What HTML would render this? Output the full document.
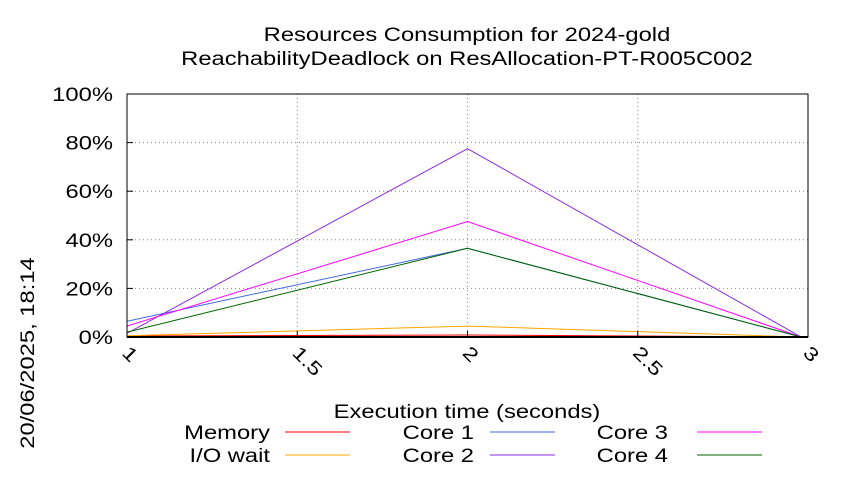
<!DOCTYPE html>
<html><head><meta charset="utf-8"><style>
html,body{margin:0;padding:0;background:#fff;}
svg text{font-family:"Liberation Sans",sans-serif;fill:#000;}
</style></head><body>
<svg width="850" height="475" xmlns="http://www.w3.org/2000/svg">
<g id="grid"></g>
<g id="series"></g>
<g id="axes"></g>
<text x="467" y="41" font-size="19" text-anchor="middle">Resources Consumption for 2024-gold</text>
<text x="467" y="65" font-size="19" text-anchor="middle">ReachabilityDeadlock on ResAllocation-PT-R005C002</text>
<text x="467" y="418" font-size="19" text-anchor="middle">Execution time (seconds)</text>
<text transform="translate(34,353) rotate(-90)" font-size="19" text-anchor="middle">20/06/2025, 18:14</text>
<g id="legend"></g>
</svg>
<script>
const xValues=[1,2,2.98];
const memory=[0.4,0.8,0];
const ioWait=[0.5,4.5,0];
const core1=[6.5,36.5,0];
const core2=[1.5,77.5,0];
const core3=[4.5,47.5,0];
const core4=[2,36.5,0];
const yTicks=[0,20,40,60,80,100];
const yTickLabels=["0%","20%","40%","60%","80%","100%"];
const xTicks=[1,1.5,2,2.5,3];
const xTickLabels=["1","1.5","2","2.5","3"];
const seriesNames=["Memory","I/O wait","Core 1","Core 2","Core 3","Core 4"];
const seriesColors=["#ff0000","#ffa500","#4169e1","#8a2be2","#ff00ff","#006400"];
const seriesData=[memory,ioWait,core1,core2,core3,core4];

const NS="http://www.w3.org/2000/svg";
const L=127,R=808,T=94,B=337;
const sx=v=>L+(v-1)/(3-1)*(R-L);
const sy=v=>B-v/100*(B-T);
function mk(tag,attrs,parent){const e=document.createElementNS(NS,tag);for(const k in attrs)e.setAttribute(k,attrs[k]);parent.appendChild(e);return e;}
const grid=document.getElementById('grid'),axes=document.getElementById('axes'),series=document.getElementById('series'),legend=document.getElementById('legend');
yTicks.forEach((t,i)=>{
  const y=sy(t);
  if(t>0&&t<100){const g=mk('line',{x1:L,x2:R,y1:y,y2:y,stroke:'#888','stroke-dasharray':'1,3','stroke-width':1},grid);
  
  }
  const tk=mk('line',{x1:L,x2:L+6,y1:y,y2:y,stroke:'#000'},axes);
  
  
  const tx=mk('text',{x:L-14,y:y+7,'font-size':19,'text-anchor':'end'},axes);
  tx.textContent=yTickLabels[i];
  
  
});
xTicks.forEach((t,i)=>{
  const x=sx(t);
  if(t>1&&t<3){const g=mk('line',{x1:x,x2:x,y1:T,y2:B,stroke:'#888','stroke-dasharray':'1,3','stroke-width':1},grid);
  
  }
  const tk=mk('line',{x1:x,x2:x,y1:B,y2:B-6,stroke:'#000'},axes);
  
  
  const tx=mk('text',{transform:`translate(${x-6},${354}) rotate(45)`,'font-size':19},axes);
  tx.textContent=xTickLabels[i];
  
  
});
const frame=mk('rect',{x:L,y:T,width:R-L,height:B-T,fill:'none',stroke:'#000','stroke-width':1},axes);


const base=mk('line',{x1:L,x2:R,y1:B,y2:B,stroke:'#000','stroke-width':2},axes);


seriesData.forEach((d,i)=>{
  const pts=d.map((v,j)=>sx(xValues[j])+','+sy(v)).join(' ');
  const p=mk('polyline',{points:pts,fill:'none',stroke:seriesColors[i],'stroke-width':1},series);
  
  
});
const legPos=[[270,285,432],[270,285,455],[474,490,432],[474,490,455],[668,697,432],[668,697,455]];
seriesNames.forEach((n,i)=>{
  const [tx,lx,y]=legPos[i];
  const t=mk('text',{x:tx,y:y+7,'font-size':19,'text-anchor':'end'},legend);
  t.textContent=n;
  
  
  const l=mk('line',{x1:lx,x2:lx+65,y1:y,y2:y,stroke:seriesColors[i],'stroke-width':1},legend);
  
  
});
document.querySelectorAll('svg text').forEach(t=>{
  const w=t.getComputedTextLength();
  t.setAttribute('textLength',(w*1.25).toFixed(1));
  t.setAttribute('lengthAdjust','spacingAndGlyphs');
});
</script>
</body></html>
